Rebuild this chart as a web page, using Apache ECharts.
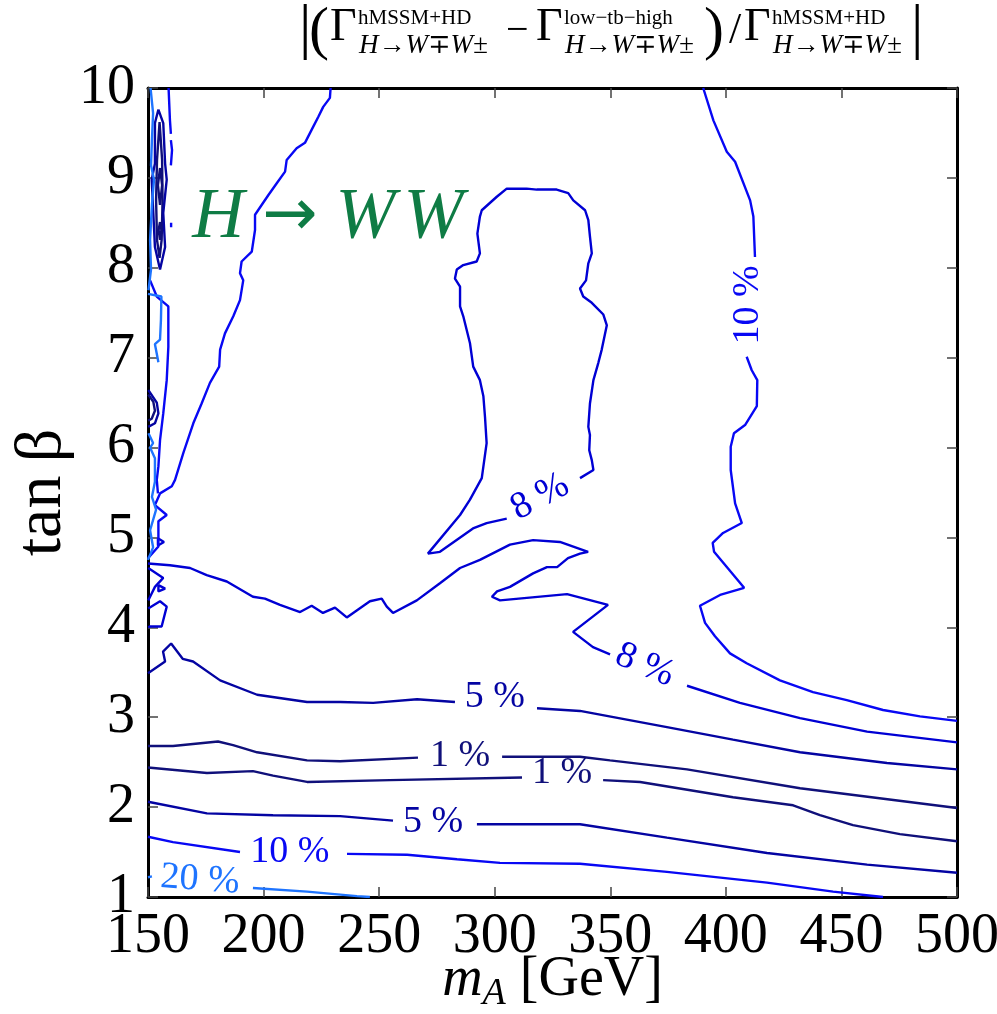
<!DOCTYPE html>
<html>
<head>
<meta charset="utf-8">
<script src="https://cdn.jsdelivr.net/npm/echarts@6/dist/echarts.min.js"></script>
<style>
  html, body { margin: 0; padding: 0; background: #fff; }
  #main { width: 997px; height: 1014px; }
</style>
</head>
<body>
<div id="main"></div>
<script>
// axis ranges
const xRange = [150, 500, 50];
const yRange = [1, 10, 1];

// contour lines, [mA, tanb] pairs, one array per drawn piece
const level1 = [
  [[150,2.68],[160.8,2.68],[180.3,2.73],[186.8,2.69],[197.2,2.61],[218.8,2.52],[233.1,2.51],[266.8,2.55]],
  [[303.2,2.56],[336.9,2.56],[349.9,2.52],[383.2,2.42],[432.1,2.21],[500,1.99]],
  [[150,2.44],[175.5,2.38],[195.4,2.40],[204.1,2.35],[218.8,2.28],[254.7,2.30],[311.8,2.33]],
  [[346.9,2.30],[362.9,2.28],[403.1,2.11],[429.1,2.02],[440.7,1.91],[455.0,1.80],[475.3,1.70],[500,1.62]],
  [[155.0,9.62],[156.1,9.20],[156.3,8.75],[155.9,8.31],[155.0,8.11],[153.9,8.31],[153.5,8.75],[153.9,9.20],[155.0,9.62]],
  [[155.2,9.11],[156.1,8.92],[155.2,8.70],[154.3,8.92],[155.2,9.11]],
  [[155.2,8.51],[155.8,8.42],[155.2,8.31],[154.6,8.42],[155.2,8.51]],
  [[150.1,6.59],[152.3,6.51],[153.0,6.41],[151.6,6.32],[150.1,6.30]]
];
const level5 = [
  [[150,3.49],[157.4,3.62],[156.5,3.73],[160.0,3.82],[165.0,3.65],[169.5,3.62],[181.2,3.41],[197.2,3.25],[218.8,3.17],[233.1,3.17],[247.4,3.16],[266.4,3.20],[282.8,3.17]],
  [[318.3,3.10],[336.9,3.07],[374.5,2.89],[403.1,2.75],[432.1,2.61],[469.7,2.49],[500,2.42]],
  [[150,2.06],[175.5,1.93],[204.1,1.91],[233.1,1.90],[256.0,1.85]],
  [[292.3,1.81],[336.9,1.81],[374.5,1.66],[417.8,1.49],[461.1,1.36],[500,1.27]],
  [[154.5,9.76],[156.6,9.61],[157.4,9.16],[158.1,8.98],[156.6,8.61],[157.4,8.23],[155.2,7.98],[153.0,8.23],[152.3,8.61],[151.6,8.98],[153.0,9.16],[153.0,9.61],[154.5,9.76]],
  [[150.1,6.64],[153.8,6.50],[154.5,6.38],[153.0,6.27],[150.1,6.23]]
];
const level8 = [
  [[150,4.71],[159.5,4.69],[168.2,4.66],[175.4,4.58],[184.1,4.51],[195.4,4.34],[200.6,4.32],[207.1,4.25],[215.8,4.17],[220.8,4.24],[225.7,4.16],[230.9,4.22],[236.0,4.11],[246.0,4.29],[251.1,4.32],[253.3,4.23],[256.0,4.16],[266.3,4.30],[276.3,4.49],[285.0,4.66],[293.6,4.75],[306.6,4.92],[316.6,4.97],[328.2,4.95],[340.4,4.84],[336.9,4.82],[331.7,4.77],[327.0,4.67],[322.6,4.67],[316.6,4.60],[306.6,4.45],[301.0,4.40],[298.8,4.34],[302.3,4.30],[331.3,4.37],[349.0,4.25],[333.9,3.95],[342.5,3.78],[349.9,3.70]],
  [[383.2,3.35],[406.1,3.16],[432.1,2.99],[461.1,2.84],[500,2.72]],
  [[305.2,5.21],[296.5,5.16],[290.6,5.10],[276.3,4.84],[271.1,4.82],[285.0,5.25],[289.3,5.42],[294.4,5.66],[296.5,6.05],[295.8,6.34],[295.1,6.57],[293.6,6.75],[290.7,6.90],[289.3,7.16],[286.4,7.46],[285.0,7.57],[285.0,7.79],[282.8,7.88],[283.6,7.98],[286.4,8.03],[292.2,8.07],[293.6,8.16],[292.5,8.38],[293.6,8.57],[294.4,8.64],[300.9,8.79],[305.2,8.88],[313.8,8.88],[318.2,8.87],[326.8,8.87],[331.8,8.83],[334.0,8.75],[339.1,8.64],[340.5,8.53],[341.2,8.35],[342.0,8.16],[340.5,8.05],[339.5,7.86],[336.9,7.77],[338.3,7.68],[342.0,7.61],[347.0,7.48],[348.5,7.36],[346.3,7.09],[344.8,6.94],[342.7,6.75],[341.2,6.49],[340.5,6.23],[341.2,6.14],[340.9,5.97],[342.0,5.86],[342.7,5.75],[336.9,5.66]],
  [[150.1,4.66],[156.6,4.55],[153.0,4.45],[150.9,4.34],[150.1,4.30]],
  [[154.5,4.47],[157.4,4.43],[154.5,4.40],[154.5,4.47]],
  [[150.1,4.21],[155.2,4.29],[158.1,4.23],[155.9,4.01],[150.9,4.01],[150.1,4.00]],
  [[154.3,4.99],[156.9,4.95],[154.3,4.91],[154.3,4.99]]
];
const level10 = [
  [[390.2,10.0],[394.6,9.64],[400.4,9.29],[404.0,9.18],[410.5,8.75],[411.9,8.57],[412.6,8.12]],
  [[409.0,7.01],[411.2,6.86],[413.6,6.75],[413.4,6.46],[408.3,6.25],[403.5,6.16],[402.1,6.01],[402.1,5.75],[404.0,5.38],[406.9,5.16],[398.8,5.05],[394.3,4.94],[394.9,4.84],[407.9,4.44],[397.5,4.36],[388.8,4.24],[391.0,4.05],[395.3,3.90],[401.8,3.71],[409.0,3.60],[423.4,3.41],[437.7,3.28],[452.3,3.19],[468.0,3.08],[484.0,3.01],[500,2.96]],
  [[229.0,10.0],[228.7,9.89],[225.8,9.79],[223.7,9.68],[221.5,9.57],[217.9,9.39],[214.3,9.33],[210.0,9.20],[209.3,9.07],[205.7,8.94],[202.1,8.81],[196.3,8.59],[196.3,8.42],[194.9,8.18],[190.5,8.07],[189.8,7.94],[191.2,7.86],[189.8,7.64],[186.9,7.46],[183.3,7.27],[181.2,7.09],[180.8,6.90],[176.8,6.72],[173.2,6.49],[169.6,6.27],[165.3,5.94],[161.7,5.64],[160.3,5.57],[155.2,5.49],[153.0,5.36],[158.1,5.25],[154.5,5.18],[154.5,4.90],[150,4.77]],
  [[150.9,7.86],[153.8,7.68],[158.8,7.57],[158.8,7.12],[158.1,6.75],[156.6,6.38],[155.2,6.08],[154.5,5.79],[153.8,5.64],[154.3,5.49]],
  [[158.9,10.0],[159.5,9.64],[159.9,9.49]],
  [[159.9,9.42],[160.4,9.31],[159.9,9.14]],
  [[160.0,8.50],[160.6,8.48],[160.0,8.45],[160.0,8.50]],
  [[150,1.67],[160.8,1.61],[189.8,1.50]],
  [[236.1,1.48],[262.1,1.47],[283.7,1.42],[302.3,1.38],[336.9,1.37],[374.5,1.28],[417.8,1.16],[446.4,1.06],[468.0,1.0]]
];
const level20 = [
  [[151.1,10.0],[152.2,9.72],[151.7,9.42],[151.3,9.14],[152.6,8.98],[151.7,8.70],[150.9,8.31],[151.3,7.98],[150.2,7.75]],
  [[150,7.71],[155.8,7.68],[155.6,7.42],[155.2,7.20],[153.0,7.15],[153.9,7.03],[154.5,6.95]],
  [[150.2,6.16],[152.2,6.05],[150.9,6.00],[153.0,5.88],[153.0,5.75],[153.0,5.62],[151.7,5.45],[153.5,5.31],[150.9,5.08],[152.2,4.89],[150,4.75]],
  [[150,1.22],[151.7,1.23]],
  [[195.4,1.10],[218.8,1.06],[240.4,1.01],[246.0,1.0]]
];

// inline contour labels
const labelText = ['5 %', '1 %', '1 %', '5 %', '10 %', '20 %', '8 %', '8 %', '10 %'];
const labelX = [300.1, 285.0, 329.1, 273.3, 211.4, 172.5, 319.6, 365.0, 409.6];
const labelY = [3.225, 2.569, 2.380, 1.834, 1.50, 1.19, 5.45, 3.58, 7.586];
const labelLevel = [5, 1, 1, 5, 10, 20, 8, 8, 10];
const labelRot = [0, 0, 0, 0, 0, -4, 28, -23, 90];

const processPos = [228.7, 8.55];

const serif = '"Liberation Serif", "DejaVu Serif", serif';
const levelColor = { 1: '#10107a', 5: '#0404a2', 8: '#0000d4', 10: '#0808f4', 20: '#1e74ff' };
const green = '#0f7c45';

let chart = echarts.init(document.getElementById('main'));

let series = [];
[[1, level1], [5, level5], [8, level8], [10, level10], [20, level20]].forEach(function (pair) {
  pair[1].forEach(function (seg) {
    series.push({
      type: 'line',
      data: seg,
      symbol: 'none',
      silent: true,
      lineStyle: { color: levelColor[pair[0]], width: 2.4 },
      z: 2,
    });
  });
});

series.push({
  type: 'scatter',
  symbolSize: 1,
  silent: true,
  itemStyle: { color: 'rgba(0,0,0,0)', opacity: 1 },
  z: 5,
  data: labelText.map(function (t, i) {
    return {
      value: [labelX[i], labelY[i]],
      label: {
        show: true,
        position: 'inside',
        formatter: t,
        rotate: labelRot[i],
        color: levelColor[labelLevel[i]],
        opacity: 1,
        fontFamily: serif,
        fontSize: 38,
      },
    };
  }),
});

// H -> WW annotation
series.push({
  type: 'scatter',
  symbolSize: 1,
  silent: true,
  itemStyle: { color: 'rgba(0,0,0,0)', opacity: 1 },
  z: 5,
  data: [{
    value: processPos,
    label: {
      show: true,
      position: 'inside',
      opacity: 1,
      formatter: '{h|H}{n|\u2192}{w|W}{w|W}',
      rich: {
        h: { fontFamily: serif, fontStyle: 'italic', fontSize: 72, color: green, padding: [0, 4, 0, 0] },
        n: { fontFamily: '"DejaVu Sans", sans-serif', fontSize: 66, color: green, padding: [0, 14, 0, 14] },
        w: { fontFamily: serif, fontStyle: 'italic', fontSize: 72, color: green, padding: [0, 4, 0, 4] },
      },
    },
  }],
});

function tx(x, y, text, size, italic) {
  return {
    type: 'text',
    x: x,
    y: y,
    silent: true,
    style: {
      text: text,
      fill: '#000',
      font: (italic ? 'italic ' : '') + size + 'px ' + serif,
      verticalAlign: 'middle',
      textVerticalAlign: 'middle',
    },
  };
}

// title, built like the tex expression
const sub = 'H\u2192W\u2213W\u00b1';
let titleParts = [
  tx(299, 31, '|', 62),
  tx(309, 32, '(', 60),
  tx(330, 28, '\u0393', 46),
  tx(358, 18, 'hMSSM+HD', 21),
  tx(359, 46, sub, 27, true),
  tx(506, 31, '\u2212', 40),
  tx(536, 28, '\u0393', 46),
  tx(564, 18, 'low\u2212tb\u2212high', 21),
  tx(565, 46, sub, 27, true),
  tx(704, 32, ')', 60),
  tx(729, 31, '/', 44),
  tx(744, 28, '\u0393', 46),
  tx(772, 18, 'hMSSM+HD', 21),
  tx(773, 46, sub, 27, true),
  tx(911, 31, '|', 62),
];

const tickStyle = { inside: true, length: 10, lineStyle: { color: '#444', width: 1.5 } };
const spine = { show: true, onZero: false, lineStyle: { color: '#000', width: 3 } };

let option = {
  animation: false,
  grid: { left: 148, top: 88, width: 809, height: 809, outerBoundsMode: 'none', containLabel: false },
  xAxis: [
    {
      type: 'value', min: xRange[0], max: xRange[1], interval: xRange[2], position: 'bottom',
      axisLine: spine, axisTick: tickStyle, splitLine: { show: false },
      axisLabel: { fontFamily: serif, fontSize: 56, color: '#000', margin: 12 },
      name: '{i|m}{s|A} [GeV]',
      nameLocation: 'middle',
      nameGap: 50,
      nameMoveOverlap: false,
      nameTextStyle: {
        fontFamily: serif, fontSize: 56, color: '#000',
        rich: {
          i: { fontFamily: serif, fontStyle: 'italic', fontSize: 56, color: '#000' },
          s: { fontFamily: serif, fontStyle: 'italic', fontSize: 38, color: '#000', padding: [28, 0, 0, 0] },
        },
      },
    },
    {
      type: 'value', min: xRange[0], max: xRange[1], interval: xRange[2], position: 'top',
      axisLine: spine, axisTick: tickStyle, splitLine: { show: false }, axisLabel: { show: false },
    },
  ],
  yAxis: [
    {
      type: 'value', min: yRange[0], max: yRange[1], interval: yRange[2], position: 'left',
      axisLine: spine, axisTick: tickStyle, splitLine: { show: false },
      axisLabel: { fontFamily: serif, fontSize: 56, color: '#000', margin: 13 },
      name: 'tan\u2009\u03b2',
      nameLocation: 'middle',
      nameGap: 72,
      nameMoveOverlap: false,
      nameTextStyle: { fontFamily: serif, fontSize: 66, color: '#000' },
    },
    {
      type: 'value', min: yRange[0], max: yRange[1], interval: yRange[2], position: 'right',
      axisLine: spine, axisTick: tickStyle, splitLine: { show: false }, axisLabel: { show: false },
    },
  ],
  graphic: titleParts,
  series: series,
};

chart.setOption(option);
</script>
</body>
</html>
